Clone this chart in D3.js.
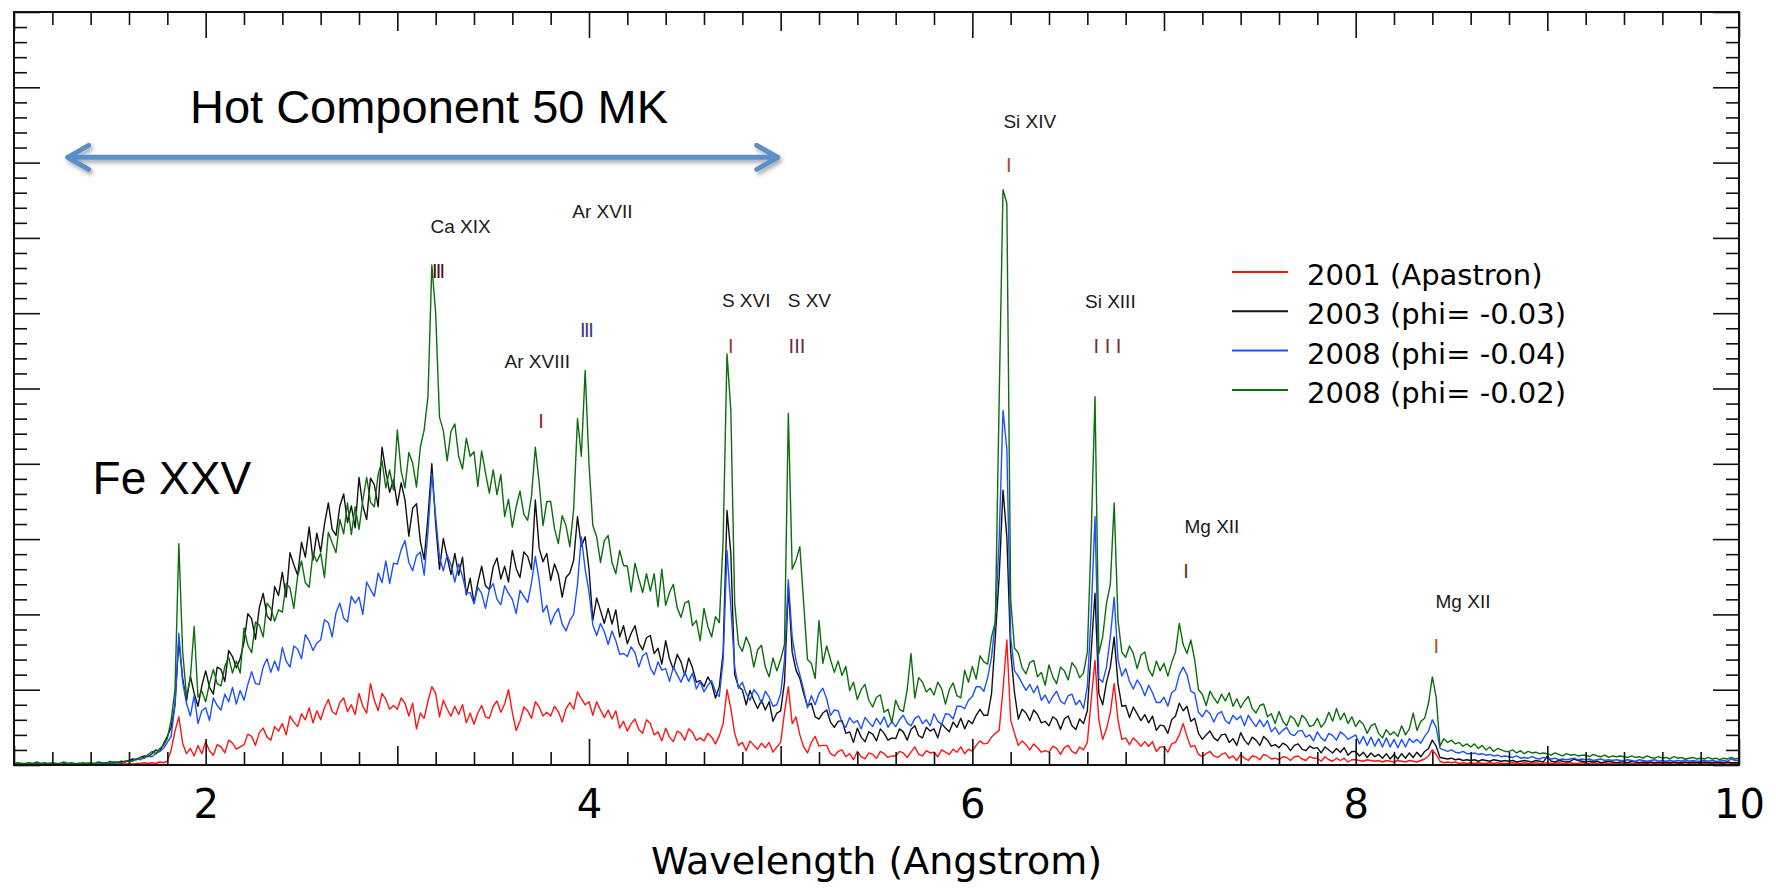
<!DOCTYPE html>
<html>
<head>
<meta charset="utf-8">
<script src="https://cdn.jsdelivr.net/npm/d3@7/dist/d3.min.js"></script>
<style>
html,body{margin:0;padding:0;background:#fff;}
svg{display:block;}
</style>
</head>
<body>
<svg id="chart" width="1776" height="888"></svg>
<script>
// ================= DATA =================
// wavelength grid: 1.00 .. 10.00 Angstrom in steps of 0.02 (one row = 0.2 A)
const waveStart = 1.0;
const waveStep = 0.02;

// flux (arbitrary units x100), 2001 (Apastron)
const flux2001 = [
  1,2,1,1,2,1,2,1,1,2,
  1,2,1,1,2,1,1,2,1,1,
  2,1,1,2,1,2,1,1,2,1,
  2,1,2,2,3,2,3,2,4,3,
  5,20,45,64,29,15,22,12,26,15,
  31,19,13,27,24,16,33,29,21,24,
  27,41,38,26,43,49,37,33,51,45,
  55,40,65,57,51,68,60,76,56,72,
  60,76,87,71,67,83,89,71,80,67,
  95,78,69,108,86,72,95,87,74,79,
  74,89,82,65,82,48,69,62,85,104,
  95,64,86,74,65,78,67,80,56,69,
  54,69,79,64,62,78,85,70,81,100,
  70,46,58,77,72,62,84,77,65,70,
  65,78,71,57,75,83,74,97,88,80,
  84,66,84,73,63,73,61,72,49,58,
  45,55,61,47,42,60,55,40,44,32,
  49,37,31,45,42,33,48,43,33,36,
  32,42,37,28,39,55,100,75,42,26,
  30,19,32,26,21,29,23,30,17,24,
  30,70,104,55,64,40,24,16,30,38,
  25,26,26,15,12,18,20,11,15,7,
  18,11,8,16,14,9,18,15,10,12,
  12,18,16,10,17,24,14,12,19,16,
  17,11,20,17,14,21,17,24,15,21,
  18,26,32,28,29,37,42,46,100,166,
  60,42,26,32,27,20,28,23,17,19,
  17,25,22,14,23,26,18,15,24,20,
  30,86,139,60,34,48,70,108,60,34,
  36,27,36,31,25,31,25,31,18,24,
  24,17,28,30,40,55,38,24,26,14,
  11,15,18,12,10,14,16,9,12,6,
  14,9,6,12,11,7,14,12,8,9,
  7,11,10,6,11,12,8,6,11,9,
  9,5,11,7,5,9,6,9,4,7,
  7,6,5,7,6,5,6,4,6,5,
  4,6,5,4,6,5,4,6,8,12,
  20,14,5,3,4,3,4,2,3,2,
  3,2,3,2,2,3,2,3,2,2,
  2,3,2,2,3,2,2,3,2,2,
  3,2,2,3,2,2,3,2,2,3,
  2,2,3,2,2,3,2,2,3,2,
  2,3,2,2,3,2,2,3,2,2,
  3,2,2,3,2,2,3,2,2,3,
  2,2,3,2,2,3,2,3,2,2,
  2
];

// 2003 (phi = -0.03)
const flux2003 = [
  1,2,1,2,1,2,1,1,2,1,
  2,1,1,2,1,2,1,2,1,2,
  2,1,3,2,3,2,4,3,5,4,
  6,8,7,10,12,11,15,20,18,28,
  38,50,80,165,115,85,118,95,78,105,
  125,103,94,130,127,111,152,144,129,141,
  163,201,194,167,209,228,198,192,237,225,
  256,223,282,266,252,296,276,316,272,308,
  283,320,348,313,305,344,360,322,344,315,
  382,344,326,381,372,343,422,390,362,379,
  345,375,352,304,341,347,297,273,330,400,
  320,260,301,276,253,281,252,276,226,248,
  215,242,264,238,233,263,275,247,264,243,
  285,261,249,283,277,260,352,288,270,281,
  245,267,253,223,249,255,272,330,290,303,
  260,192,222,205,188,208,187,206,170,185,
  161,175,185,162,153,169,172,148,155,134,
  165,141,127,147,137,119,142,129,110,112,
  104,117,108,89,104,150,338,281,120,104,
  100,80,99,86,75,86,73,84,58,69,
  72,110,237,150,126,115,95,78,82,64,
  61,69,73,57,50,58,59,42,44,30,
  49,37,31,44,41,32,48,42,33,36,
  35,48,44,33,47,52,39,36,50,45,
  48,36,55,49,44,57,50,62,48,59,
  55,66,74,66,66,94,170,250,365,303,
  150,96,61,74,69,59,73,67,56,58,
  52,64,60,47,61,65,52,47,61,55,
  72,150,228,95,80,110,130,170,108,78,
  79,63,77,68,59,67,56,65,46,53,
  52,42,60,65,82,72,78,58,62,42,
  34,40,45,36,32,40,41,30,35,26,
  43,33,27,37,33,26,38,33,25,27,
  23,29,26,19,26,28,21,19,25,22,
  23,16,24,20,16,22,17,23,13,18,
  18,12,17,10,16,11,14,9,15,8,
  14,8,15,9,16,10,17,11,18,22,
  33,25,10,9,8,9,7,8,6,7,
  6,7,5,7,6,5,7,6,5,6,
  5,6,4,5,6,5,4,6,5,4,
  12,5,4,6,5,4,5,8,6,5,
  4,5,4,5,3,4,5,4,3,4,
  4,3,5,4,3,4,3,4,3,4,
  3,4,3,4,3,3,4,3,4,3,
  3,4,3,3,4,3,3,4,3,3,
  3
];

// 2008 (phi = -0.04)
const flux2008a = [
  1,1,2,1,2,1,1,2,1,1,
  2,1,2,1,1,2,1,2,1,2,
  2,1,2,3,2,3,2,4,3,5,
  5,6,8,7,10,12,11,15,18,22,
  30,38,80,175,110,82,65,92,55,72,
  76,59,89,79,73,94,84,103,81,99,
  86,107,124,108,107,130,141,123,138,125,
  156,138,130,158,154,141,173,165,152,162,
  166,193,189,170,202,215,195,190,224,215,
  223,200,243,233,224,255,242,271,241,268,
  267,286,298,269,258,278,283,252,310,387,
  330,276,258,279,266,243,267,251,228,229,
  214,236,228,208,233,241,220,213,238,228,
  220,201,232,224,216,242,277,245,203,212,
  187,200,208,187,178,192,200,240,303,260,
  230,186,172,188,177,160,178,165,147,148,
  144,157,149,130,145,149,129,120,137,126,
  128,111,130,120,110,123,111,122,101,111,
  97,106,112,97,91,140,285,210,130,102,
  110,95,86,100,94,82,98,90,78,80,
  95,140,246,170,139,120,100,76,92,80,
  95,102,88,66,73,72,56,50,63,56,
  59,48,63,57,51,62,54,64,50,58,
  51,60,66,56,52,62,65,55,60,52,
  68,58,54,68,67,61,78,78,75,86,
  91,104,104,98,116,143,192,300,471,420,
  170,125,118,108,99,107,96,105,86,93,
  82,91,98,85,81,92,94,80,86,75,
  104,200,330,115,110,130,170,223,140,118,
  128,111,101,113,105,92,106,96,83,83,
  90,78,96,100,120,130,120,98,95,70,
  64,73,68,57,68,71,59,55,66,60,
  65,52,66,58,51,60,51,59,44,50,
  41,46,50,41,39,45,46,37,40,32,
  44,36,32,42,39,33,44,40,34,37,
  40,28,38,26,37,25,35,24,36,24,
  34,23,34,24,35,30,34,29,38,45,
  60,50,22,20,18,20,17,16,18,15,
  15,16,14,15,13,14,12,13,11,12,
  11,10,12,9,10,9,11,9,8,10,
  9,8,9,7,8,7,8,9,7,8,
  7,8,6,7,8,6,7,6,7,6,
  6,7,6,5,7,6,5,6,7,5,
  6,5,6,5,6,5,7,5,6,5,
  5,6,5,6,5,5,6,5,8,6,
  6
];

// 2008 (phi = -0.02)
const flux2008b = [
  2,3,2,2,3,2,4,2,3,2,
  3,2,2,4,2,3,2,2,3,2,
  3,2,4,3,2,5,3,4,3,5,
  6,5,8,10,9,14,18,15,22,26,
  35,60,100,294,150,92,115,184,90,98,
  84,108,127,108,105,131,143,122,138,122,
  182,159,149,190,186,170,215,208,191,206,
  203,241,235,208,251,271,242,236,282,270,
  281,249,309,295,282,326,307,348,306,343,
  313,352,382,349,343,386,404,368,392,365,
  445,390,368,415,401,369,422,445,490,664,
  600,462,444,404,443,453,410,393,434,410,
  416,370,417,388,361,392,359,386,330,353,
  316,343,364,333,325,357,422,375,318,350,
  350,314,294,331,318,290,340,460,410,524,
  400,318,303,269,298,305,269,254,285,265,
  264,230,268,247,229,254,231,254,210,260,
  212,229,240,209,196,215,218,185,192,165,
  208,184,170,197,189,300,546,471,215,160,
  151,170,158,130,153,159,130,117,142,125,
  140,160,467,260,272,290,215,140,135,115,
  192,135,158,140,123,138,119,131,99,110,
  87,100,107,86,77,90,93,70,74,56,
  86,74,71,100,148,89,116,110,97,102,
  93,110,101,81,100,109,92,89,126,110,
  131,114,145,137,134,170,190,485,764,746,
  220,155,149,129,121,136,139,117,123,106,
  133,117,108,130,125,113,136,129,116,122,
  150,303,489,148,170,215,240,348,192,150,
  143,158,148,128,146,150,127,118,138,125,
  135,118,136,150,188,160,148,166,140,100,
  94,79,98,89,82,94,85,96,78,88,
  76,85,91,75,69,79,81,64,68,55,
  71,58,52,65,61,51,66,61,51,53,
  62,50,57,70,58,75,60,69,55,64,
  51,59,54,42,52,55,42,36,47,40,
  44,38,52,40,48,69,46,58,62,82,
  117,90,25,35,30,33,28,30,25,28,
  24,28,22,26,20,24,18,22,20,18,
  18,20,16,19,15,18,16,17,15,16,
  15,13,16,14,12,15,13,14,12,13,
  13,11,14,12,11,13,10,12,11,12,
  11,10,12,10,11,9,12,10,9,11,
  9,10,8,11,9,10,8,9,10,8,
  9,8,10,8,9,7,9,8,10,8,
  9
];

const seriesNames = ["2001 (Apastron)", "2003 (phi= -0.03)", "2008 (phi= -0.04)", "2008 (phi= -0.02)"];
const xTickValues = [2, 4, 6, 8, 10];
const xTickLabels = ["2", "4", "6", "8", "10"];

// spectral line identifications (wavelength, flux position of label / marker)
const ionLabels     = ["Ca XIX", "Ar XVII", "Ar XVIII", "S XVI", "S XV", "Si XIV", "Si XIII", "Mg XII", "Mg XII"];
const ionLabelWave  = [3.33, 4.07, 3.73, 4.82, 5.15, 6.30, 6.72, 7.25, 8.56];
const ionLabelFlux  = [706, 726, 527, 608, 608, 846, 607, 308, 208];
const ionMarks      = ["III", "III", "I", "I", "III", "I", "I I I", "I", "I"];
const ionMarkWave   = [3.21, 3.985, 3.75, 4.74, 5.085, 6.19, 6.705, 7.115, 8.42];
const ionMarkFlux   = [647, 568, 447, 547, 547, 787, 547, 248, 149];

// ================= STYLE =================
const seriesColors = ["#ff1414", "#111111", "#1e50ff", "#0c6e0c"];
const markColors = ["#4d0f1a", "#3b3b86", "#8c1c1c", "#a8351c", "#6b2a48", "#a24a22", "#7a2b34", "#5a3414", "#b8501a"];
const markSpacing = [-1.8, -1.5, 0, 0, 0, 0, 0, 0, 0];

// ================= DRAW =================
const svg = d3.select("#chart");
const plot = {left: 14, right: 1739, top: 12, bottom: 765};
const x = d3.scaleLinear().domain([1, 10]).range([plot.left, plot.right]);
const y = d3.scaleLinear().domain([0, 1000]).range([plot.bottom, plot.top]);

svg.append("rect").attr("width", 1776).attr("height", 888).attr("fill", "#fff");

const defs = svg.append("defs");
defs.append("clipPath").attr("id", "plotclip").append("rect")
  .attr("x", plot.left).attr("y", plot.top)
  .attr("width", plot.right - plot.left).attr("height", plot.bottom - plot.top);
const flt = defs.append("filter").attr("id", "shadow")
  .attr("x", "-5%").attr("y", "-100%").attr("width", "110%").attr("height", "300%");
flt.append("feDropShadow").attr("dx", 2).attr("dy", 3).attr("stdDeviation", 2)
  .attr("flood-color", "#000").attr("flood-opacity", 0.35);

// spectra
const allSeries = [flux2001, flux2003, flux2008a, flux2008b];
const line = d3.line()
  .x((d, i) => x(waveStart + i * waveStep))
  .y(d => y(d));
svg.append("g").attr("clip-path", "url(#plotclip)")
  .selectAll("path").data(allSeries).join("path")
  .attr("d", line)
  .attr("fill", "none")
  .attr("stroke", (d, i) => seriesColors[i])
  .attr("stroke-width", 1.4)
  .attr("stroke-linejoin", "round");

// ticks (inward, all four sides)
const isInt = v => Math.abs(v - Math.round(v)) < 1e-6;
const minorX = d3.range(1, 10.0001, 0.2).map(v => +v.toFixed(1)).filter(v => !isInt(v));
const oddX = [1, 3, 5, 7, 9];
const minorY = d3.range(0, 1000.01, 20).filter(v => v % 100 !== 0);
const majorY = d3.range(0, 1000.01, 100);

function tickAxis(axis, values, size, transform, labels) {
  const g = svg.append("g").attr("transform", transform)
    .call(axis.tickValues(values).tickSize(-size)
      .tickFormat(labels ? ((d, i) => labels[i]) : "")
      .tickPadding(labels ? 25 : 3));
  g.select(".domain").remove();
  g.selectAll(".tick line").attr("stroke", "#111").attr("stroke-width", 1.6);
  g.attr("font-family", null).attr("font-size", null);
  return g;
}
tickAxis(d3.axisBottom(x), minorX, 13, `translate(0,${plot.bottom})`);
tickAxis(d3.axisBottom(x), oddX, 19, `translate(0,${plot.bottom})`);
const xLab = tickAxis(d3.axisBottom(x), xTickValues, 26, `translate(0,${plot.bottom})`, xTickLabels);
xLab.selectAll(".tick text")
  .attr("font-family", "'DejaVu Sans', Verdana, sans-serif")
  .attr("font-size", 40).attr("fill", "#000");
tickAxis(d3.axisTop(x), minorX, 13, `translate(0,${plot.top})`);
tickAxis(d3.axisTop(x), oddX, 19, `translate(0,${plot.top})`);
tickAxis(d3.axisTop(x), xTickValues, 26, `translate(0,${plot.top})`);
tickAxis(d3.axisLeft(y), minorY, 13, `translate(${plot.left},0)`);
tickAxis(d3.axisLeft(y), majorY, 26, `translate(${plot.left},0)`);
tickAxis(d3.axisRight(y), minorY, 13, `translate(${plot.right},0)`);
tickAxis(d3.axisRight(y), majorY, 26, `translate(${plot.right},0)`);

// frame
svg.append("rect")
  .attr("x", plot.left).attr("y", plot.top)
  .attr("width", plot.right - plot.left).attr("height", plot.bottom - plot.top)
  .attr("fill", "none").attr("stroke", "#111").attr("stroke-width", 2);

// axis title
svg.append("text")
  .attr("x", (plot.left + plot.right) / 2).attr("y", 874)
  .attr("text-anchor", "middle")
  .attr("font-family", "'DejaVu Sans', Verdana, sans-serif")
  .attr("font-size", 38).attr("fill", "#000")
  .text("Wavelength (Angstrom)");

// ion labels
const sans = "'Liberation Sans', Arial, Helvetica, sans-serif";
svg.append("g").selectAll("text").data(ionLabels).join("text")
  .attr("x", (d, i) => x(ionLabelWave[i]))
  .attr("y", (d, i) => y(ionLabelFlux[i]))
  .attr("text-anchor", "middle")
  .attr("font-family", sans).attr("font-size", 19).attr("fill", "#1a1a1a")
  .text(d => d);
svg.append("g").selectAll("text").data(ionMarks).join("text")
  .attr("x", (d, i) => x(ionMarkWave[i]))
  .attr("y", (d, i) => y(ionMarkFlux[i]))
  .attr("text-anchor", "middle")
  .attr("letter-spacing", (d, i) => markSpacing[i])
  .attr("font-family", sans).attr("font-size", 20)
  .attr("fill", (d, i) => markColors[i])
  .text(d => d);

// Hot component annotation: double arrow
const arrowFrom = 1.28, arrowTo = 4.985, arrowFlux = 807;
const ay = y(arrowFlux), ax0 = x(arrowFrom), ax1 = x(arrowTo);
const arrowPath = `M${ax0},${ay}L${ax1},${ay}` +
  `M${ax0 + 21},${ay - 12}L${ax0},${ay}L${ax0 + 21},${ay + 12}` +
  `M${ax1 - 21},${ay - 12}L${ax1},${ay}L${ax1 - 21},${ay + 12}`;
svg.append("path").attr("d", arrowPath)
  .attr("fill", "none").attr("stroke", "#5b8fc9").attr("stroke-width", 5)
  .attr("stroke-linecap", "round").attr("stroke-linejoin", "round")
  .attr("filter", "url(#shadow)");

svg.append("text")
  .attr("x", x(1.918)).attr("y", y(852))
  .attr("font-family", sans).attr("font-size", 47).attr("fill", "#000")
  .text("Hot Component 50 MK");
svg.append("text")
  .attr("x", x(1.41)).attr("y", y(360))
  .attr("font-family", sans).attr("font-size", 46).attr("fill", "#000")
  .text("Fe XXV");

// legend
const legend = svg.append("g").attr("transform", "translate(1232,285)");
const items = legend.selectAll("g").data(seriesNames).join("g")
  .attr("transform", (d, i) => `translate(0,${i * 39.3})`);
items.append("line").attr("x1", 0).attr("x2", 56).attr("y1", -13).attr("y2", -13)
  .attr("stroke", (d, i) => seriesColors[i]).attr("stroke-width", 2);
items.append("text").attr("x", 75).attr("y", 0)
  .attr("font-family", "'DejaVu Sans', Verdana, sans-serif")
  .attr("font-size", 29).attr("fill", "#000")
  .text(d => d);
</script>
</body>
</html>
